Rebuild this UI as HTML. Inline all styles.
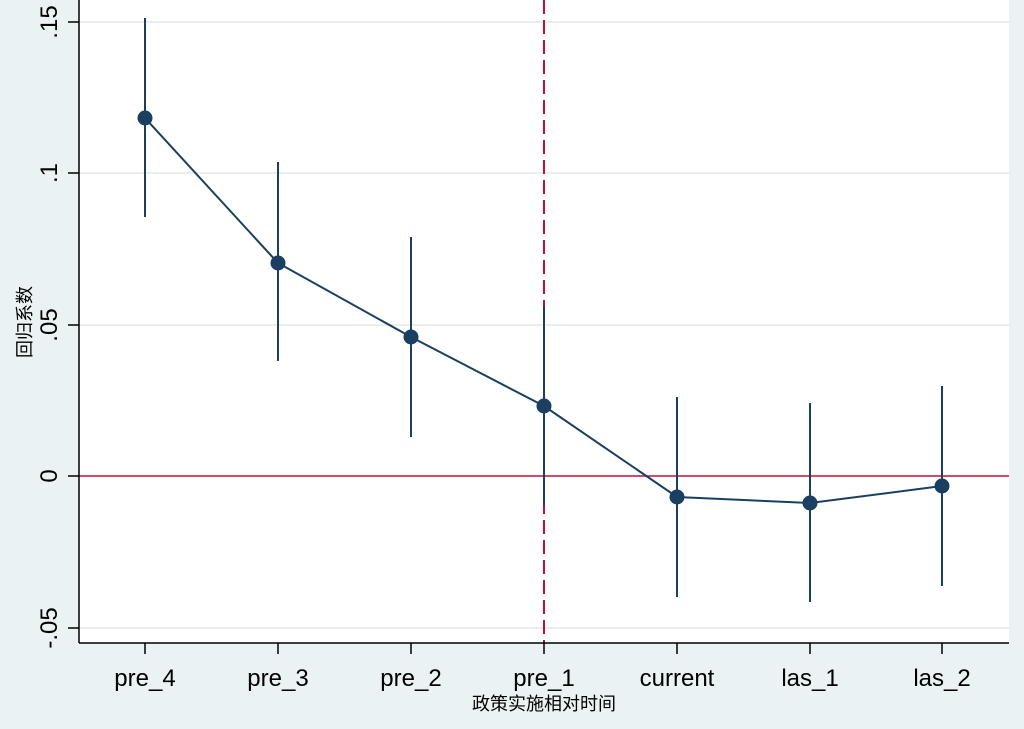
<!DOCTYPE html>
<html><head><meta charset="utf-8"><style>html,body{margin:0;padding:0;background:#eaf2f3;overflow:hidden}svg{display:block}</style></head><body>
<svg width="1024" height="729" xmlns="http://www.w3.org/2000/svg" font-family="Liberation Sans, Arial, sans-serif">
<rect width="1024" height="729" fill="#eaf2f3"/>
<rect x="79" y="0" width="930" height="643" fill="#fff"/>
<g stroke="#eaeef0" stroke-width="2">
<line x1="79" x2="1009" y1="22" y2="22"/><line x1="79" x2="1009" y1="173" y2="173"/><line x1="79" x2="1009" y1="325" y2="325"/><line x1="79" x2="1009" y1="628" y2="628"/>
</g>
<line x1="79" x2="1009" y1="476" y2="476" stroke="#c0103a" stroke-width="1.5"/>
<line x1="544" x2="544" y1="0" y2="643" stroke="#c0103a" stroke-width="2" stroke-dasharray="14,6"/>
<g stroke="#1b3f60" stroke-width="2">
<line x1="145" x2="145" y1="18" y2="217"/><line x1="278" x2="278" y1="162" y2="361"/><line x1="411" x2="411" y1="237" y2="437"/><line x1="544" x2="544" y1="306" y2="505"/><line x1="677" x2="677" y1="397" y2="597"/><line x1="810" x2="810" y1="403" y2="602"/><line x1="942" x2="942" y1="386" y2="586"/>
<polyline fill="none" points="145,118 278,263 411,337 544,406 677,497 810,503 942,486"/>
</g>
<g fill="#1b3f60">
<circle cx="145" cy="118" r="7.5"/><circle cx="278" cy="263" r="7.5"/><circle cx="411" cy="337" r="7.5"/><circle cx="544" cy="406" r="7.5"/><circle cx="677" cy="497" r="7.5"/><circle cx="810" cy="503" r="7.5"/><circle cx="942" cy="486" r="7.5"/>
</g>
<g stroke="#000" stroke-width="1.5">
<line x1="79" x2="79" y1="0" y2="643"/><line x1="79" x2="1009" y1="643" y2="643"/>
<line x1="68" x2="79" y1="22" y2="22"/><line x1="68" x2="79" y1="173" y2="173"/><line x1="68" x2="79" y1="325" y2="325"/><line x1="68" x2="79" y1="476" y2="476"/><line x1="68" x2="79" y1="628" y2="628"/>
<line x1="145" x2="145" y1="643" y2="654"/><line x1="278" x2="278" y1="643" y2="654"/><line x1="411" x2="411" y1="643" y2="654"/><line x1="544" x2="544" y1="643" y2="654"/><line x1="677" x2="677" y1="643" y2="654"/><line x1="810" x2="810" y1="643" y2="654"/><line x1="942" x2="942" y1="643" y2="654"/>
</g>
<g font-size="24" text-anchor="middle" fill="#000">
<text transform="translate(57,22) rotate(-90)">.15</text>
<text transform="translate(57,173) rotate(-90)">.1</text>
<text transform="translate(57,325) rotate(-90)">.05</text>
<text transform="translate(57,476) rotate(-90)">0</text>
<text transform="translate(57,628) rotate(-90)">-.05</text>
<text x="145" y="686">pre_4</text><text x="278" y="686">pre_3</text><text x="411" y="686">pre_2</text><text x="544" y="686">pre_1</text><text x="677" y="686">current</text><text x="810" y="686">las_1</text><text x="942" y="686">las_2</text>
</g>
<text x="544" y="710" font-size="18" text-anchor="middle" font-family="Liberation Sans, Noto Sans CJK SC, sans-serif">政策实施相对时间</text>
<text transform="translate(31,322) rotate(-90)" font-size="18" text-anchor="middle" font-family="Liberation Sans, Noto Sans CJK SC, sans-serif">回归系数</text>
</svg>
</body></html>
